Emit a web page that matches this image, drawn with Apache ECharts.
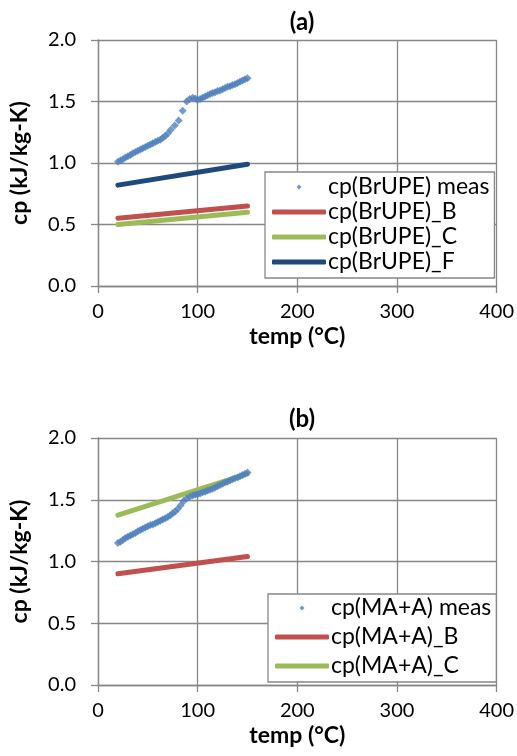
<!DOCTYPE html>
<html><head><meta charset="utf-8">
<script src="https://cdn.jsdelivr.net/npm/echarts@6/dist/echarts.min.js"></script>
<style>html,body{margin:0;padding:0;background:#fff}#c{width:517px;height:756px}</style>
</head><body><div id="c"></div>
<script>
// ---- data (a) ----
const measA_x = [20,22.5,25,27.5,30,32.5,35,37.5,40,42.5,45,47.5,50,52.5,55,57.5,60,62.5,65,67.5,70,73,77,81,85,89,92,95,97.5,100,102.5,105,107.5,110,112.5,115,117.5,120,122.5,125,127.5,130,132.5,135,137.5,140,142.5,145,147.5,150];
const measA_y = [1.01,1.02,1.03,1.045,1.055,1.065,1.08,1.09,1.10,1.11,1.12,1.13,1.14,1.15,1.16,1.17,1.18,1.19,1.205,1.22,1.24,1.27,1.305,1.345,1.425,1.50,1.52,1.53,1.525,1.515,1.52,1.53,1.54,1.55,1.56,1.57,1.575,1.585,1.59,1.60,1.61,1.62,1.625,1.635,1.64,1.65,1.66,1.67,1.68,1.69];
const lineA_x = [20,150];
const lineA_B = [0.55,0.65];
const lineA_C = [0.50,0.60];
const lineA_F = [0.82,0.99];
// ---- data (b) ----
const measB_x = [20,22.5,25,27.5,30,32.5,35,37.5,40,42.5,45,47.5,50,52.5,55,57.5,60,62.5,65,67.5,70,72.5,75,77.5,80,83,86,89,92,95,97.5,100,102.5,105,107.5,110,112.5,115,117.5,120,122.5,125,127.5,130,132.5,135,137.5,140,142.5,145,147.5,150];
const measB_y = [1.15,1.16,1.175,1.19,1.20,1.21,1.22,1.23,1.245,1.255,1.265,1.275,1.285,1.295,1.30,1.31,1.32,1.33,1.34,1.35,1.36,1.375,1.39,1.405,1.425,1.455,1.49,1.51,1.525,1.535,1.54,1.545,1.55,1.56,1.565,1.575,1.58,1.59,1.60,1.61,1.62,1.63,1.64,1.645,1.655,1.665,1.675,1.68,1.69,1.70,1.71,1.72];
const lineB_x = [20,150];
const lineB_B = [0.90,1.04];
const lineB_C = [1.375,1.71];
// ---- labels ----
const titles = ['(a)','(b)'];
const xName = 'temp (°C)';
const yName = 'cp (kJ/kg-K)';
const namesA = ['cp(BrUPE) meas','cp(BrUPE)_B','cp(BrUPE)_C','cp(BrUPE)_F'];
const namesB = ['cp(MA+A) meas','cp(MA+A)_B','cp(MA+A)_C'];

const FONT = 'Lato';
const GRAY = '#878787';
const C_MEAS = '#4F81BD', C_B = '#C0504D', C_C = '#9BBB59', C_F = '#1F497D';
const zip = (xs, ys) => xs.map((x,i)=>[x, ys[i]]);

function xAx(gi){ return {
  gridIndex: gi, type:'value', min:0, max:400, interval:100,
  name: xName, nameLocation:'middle', nameGap:39,
  nameTextStyle:{fontFamily:FONT,fontWeight:'bold',fontSize:23,color:'#000'},
  axisLine:{show:true,lineStyle:{color:GRAY,width:1.3}},
  axisTick:{show:true,inside:false,length:7,lineStyle:{color:GRAY,width:1.3}},
  axisLabel:{fontFamily:FONT,fontSize:20,color:'#000',margin:16},
  splitLine:{show:true,lineStyle:{color:GRAY,width:1.3}}
};}
function yAx(gi){ return {
  gridIndex: gi, type:'value', min:0, max:2, interval:0.5,
  name: yName, nameLocation:'middle', nameGap:67, nameRotate:90,
  nameTextStyle:{fontFamily:FONT,fontWeight:'bold',fontSize:23,color:'#000'},
  axisLine:{show:true,lineStyle:{color:GRAY,width:1.3}},
  axisTick:{show:true,inside:false,length:7,lineStyle:{color:GRAY,width:1.3}},
  axisLabel:{fontFamily:FONT,fontSize:20,color:'#000',margin:22,formatter:v=>v.toFixed(1)},
  splitLine:{show:true,lineStyle:{color:GRAY,width:1.3}}
};}
const DIAMOND = 'path://M5,0 L10,5 L5,10 L0,5 Z';
function scat(name, gi, d){ return {name, type:'scatter', xAxisIndex:gi, yAxisIndex:gi, data:d,
  symbol:'diamond', symbolSize:[8,8], itemStyle:{color:C_MEAS}, z:3};}
function ln(name, gi, d, col){ return {name, type:'line', xAxisIndex:gi, yAxisIndex:gi, data:d,
  showSymbol:false, symbol:'none', lineStyle:{color:col,width:5,cap:'round'}, itemStyle:{color:col}, z:2};}
function legend(names, left, top, gap, pad){ return {
  orient:'vertical', left, top, itemWidth:54, itemHeight:5, itemGap:gap,
  backgroundColor:'#fff', borderColor:GRAY, borderWidth:1.3, padding:pad,
  textStyle:{fontFamily:FONT,fontSize:23,lineHeight:24,color:'#000',padding:[0,0,0,-3]},
  data: names.map((n,i)=> i===0 ? {name:n, icon:DIAMOND} : {name:n, icon:'roundRect'})
};}

const chart = echarts.init(document.getElementById('c'), null, {renderer:'canvas'});
chart.setOption({
  animation:false,
  title:[
    {text:titles[0], left:297, top:5, textAlign:'center', textStyle:{fontFamily:FONT,fontWeight:'bold',fontSize:24,color:'#000'}},
    {text:titles[1], left:297, top:402, textAlign:'center', textStyle:{fontFamily:FONT,fontWeight:'bold',fontSize:24,color:'#000'}}
  ],
  grid:[
    {left:96, top:40, width:401, height:246},
    {left:96, top:438, width:401, height:247}
  ],
  xAxis:[xAx(0), xAx(1)],
  yAxis:[yAx(0), yAx(1)],
  legend:[legend(namesA,265,172,1,[3,5,4,7]), legend(namesB,268,594,5,[2,5,4,7])],
  series:[
    scat(namesA[0],0,zip(measA_x,measA_y)),
    ln(namesA[1],0,zip(lineA_x,lineA_B),C_B),
    ln(namesA[2],0,zip(lineA_x,lineA_C),C_C),
    ln(namesA[3],0,zip(lineA_x,lineA_F),C_F),
    scat(namesB[0],1,zip(measB_x,measB_y)),
    ln(namesB[1],1,zip(lineB_x,lineB_B),C_B),
    ln(namesB[2],1,zip(lineB_x,lineB_C),C_C)
  ]
});
</script></body></html>
